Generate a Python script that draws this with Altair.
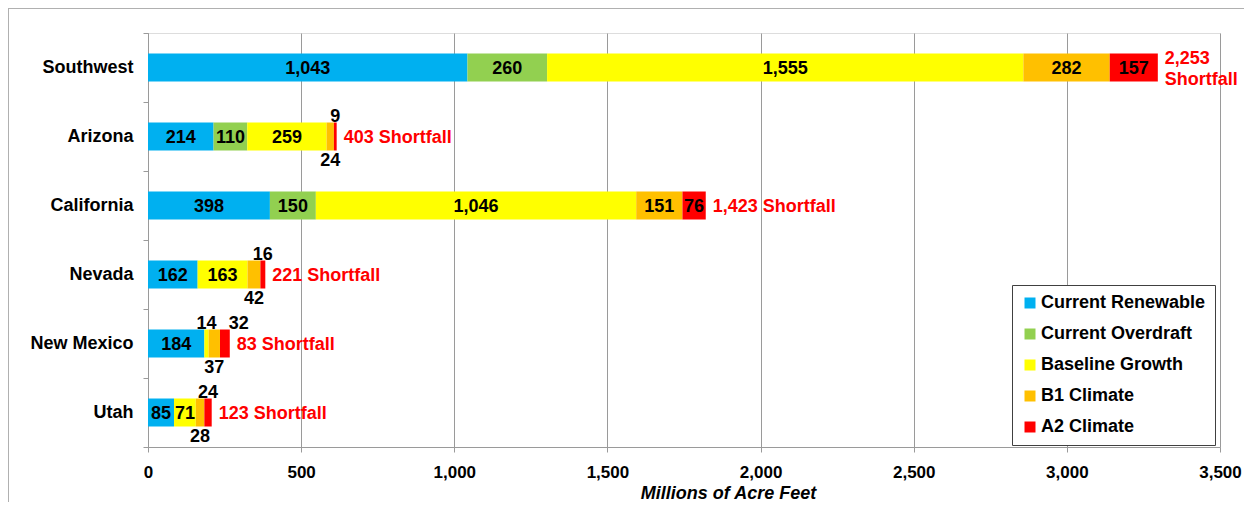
import altair as alt
import pandas as pd

# ---------------- data ----------------
regions = ["Southwest", "Arizona", "California", "Nevada", "New Mexico", "Utah"]
series = ["Current Renewable", "Current Overdraft", "Baseline Growth", "B1 Climate", "A2 Climate"]
current_renewable = [1043, 214, 398, 162, 184, 85]
current_overdraft = [260, 110, 150, 0, 0, 0]
baseline_growth = [1555, 259, 1046, 163, 14, 71]
b1_climate = [282, 24, 151, 42, 37, 28]
a2_climate = [157, 9, 76, 16, 32, 24]
shortfall = [2253, 403, 1423, 221, 83, 123]
x_ticks = [0, 500, 1000, 1500, 2000, 2500, 3000, 3500]

colors = ["#00B0F0", "#92D050", "#FFFF00", "#FFC000", "#FF0000"]

# where the value label of small segments sits
placement = {
    ("Arizona", "B1 Climate"): "below",
    ("Arizona", "A2 Climate"): "above",
    ("Nevada", "B1 Climate"): "below",
    ("Nevada", "A2 Climate"): "above",
    ("New Mexico", "Baseline Growth"): "above",
    ("New Mexico", "B1 Climate"): "below",
    ("New Mexico", "A2 Climate"): "above_right",
    ("Utah", "B1 Climate"): "below",
    ("Utah", "A2 Climate"): "above",
}

# ---------------- tables ----------------
values = [current_renewable, current_overdraft, baseline_growth, b1_climate, a2_climate]
rows = []
totals = []
for i, reg in enumerate(regions):
    start = 0
    for j, s in enumerate(series):
        v = values[j][i]
        if v > 0:
            rows.append({
                "region": reg, "series": s, "order": j, "value": v,
                "start": start, "end": start + v, "mid": start + v / 2,
                "label": f"{v:,}", "place": placement.get((reg, s), "inside"),
            })
        start += v
    totals.append(start)
bars = pd.DataFrame(rows)

short_text = []
two_line = []
for reg, v in zip(regions, shortfall):
    if reg == "Southwest":
        short_text.append(f"{v:,}\nShortfall")
        two_line.append(True)
    else:
        short_text.append(f"{v:,} Shortfall")
        two_line.append(False)
short = pd.DataFrame({"region": regions, "total": totals, "text": short_text, "two": two_line})

FONT = "Liberation Sans"
GRID = "#9a9a9a"

yenc = alt.Y(
    "region:N", sort=regions, title=None,
    scale=alt.Scale(paddingInner=0, paddingOuter=0),
    axis=alt.Axis(
        labelFont=FONT, labelFontSize=18, labelFontWeight="bold", labelColor="black",
        labelPadding=10, tickBand="extent", tickSize=5, tickColor=GRID,
        domainColor=GRID, grid=False,
    ),
)
xscale = alt.Scale(domain=[0, 3500], nice=False)

bar_layer = alt.Chart(bars).mark_bar(height=28).encode(
    y=yenc,
    x=alt.X(
        "start:Q", scale=xscale, title="Millions of Acre Feet",
        axis=alt.Axis(
            values=x_ticks, format=",d", labelFont=FONT, labelFontSize=17,
            labelFontWeight="bold", labelColor="black", labelBaseline="alphabetic",
            labelPadding=25, labelFlush=False, tickSize=5, tickColor=GRID,
            domainColor=GRID, gridColor=GRID, grid=True,
            titleFont=FONT, titleFontSize=18, titleFontWeight="bold",
            titleFontStyle="italic", titleColor="black", titleX=580, titleY=51,
            titleAlign="center", titleBaseline="alphabetic",
        ),
    ),
    x2="end:Q",
    color=alt.Color(
        "series:N", scale=alt.Scale(domain=series, range=colors),
        legend=alt.Legend(
            title=None, orient="none", legendX=864, legendY=252,
            symbolType="square", symbolSize=121, symbolStrokeWidth=0,
            labelFont=FONT, labelFontSize=18, labelFontWeight="bold",
            labelColor="black", labelLimit=400, labelOffset=2, symbolOffset=0,
            padding=9, rowPadding=13, strokeColor="#404040", fillColor="white",
        ),
    ),
    order=alt.Order("order:Q"),
)

def label_layer(place, dy=0, dx=0):
    return alt.Chart(bars).transform_filter(
        alt.datum.place == place
    ).mark_text(
        font=FONT, fontSize=18, fontWeight="bold", color="black",
        align="center", baseline="middle", dy=dy, dx=dx,
    ).encode(
        y=alt.Y("region:N", sort=regions),
        x=alt.X("mid:Q", scale=xscale),
        text="label:N",
    )

inside = label_layer("inside", dy=1)
above = label_layer("above", dy=-20)
above_r = label_layer("above_right", dy=-20, dx=14)
below = label_layer("below", dy=24)

def short_layer(two, dy):
    return alt.Chart(short).transform_filter(
        alt.datum.two == two
    ).mark_text(
        font=FONT, fontSize=18, fontWeight="bold", color="#FF0000",
        align="left", baseline="middle", dx=7, dy=dy, lineBreak="\n", lineHeight=21,
    ).encode(
        y=alt.Y("region:N", sort=regions),
        x=alt.X("total:Q", scale=xscale),
        text="text:N",
    )

short_one = short_layer(False, 1)
short_two = short_layer(True, -9)

# outer chart-area frame (top and left edges)
frame_df = pd.DataFrame({"k": [0]})
top_edge = alt.Chart(frame_df).mark_rule(color="#b0b0b0", strokeWidth=1).encode(
    x=alt.value(-140), x2=alt.value(1100), y=alt.value(-24.5)
)
left_edge = alt.Chart(frame_df).mark_rule(color="#b0b0b0", strokeWidth=1).encode(
    x=alt.value(-139.5), y=alt.value(-24.5), y2=alt.value(480)
)

chart = alt.layer(
    bar_layer, inside, above, above_r, below, short_one, short_two, top_edge, left_edge
).properties(
    width=1072, height=414,
    autosize=alt.AutoSizeParams(type="none"),
    padding={"left": 140, "top": 25, "right": 24, "bottom": 55},
).configure_view(stroke=None).configure(background="white")

chart.save("out.html", embed_options={"renderer": "svg", "actions": False})
